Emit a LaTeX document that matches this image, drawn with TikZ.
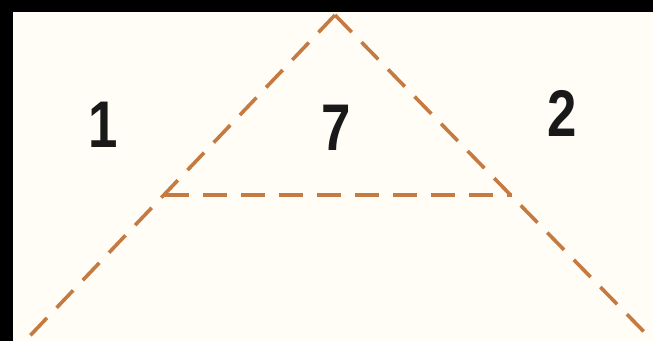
\documentclass[tikz,border=0pt]{standalone}
\usepackage{fontspec}
\usepackage{xcolor}
\usepackage{tikz}
\usetikzlibrary{positioning, calc}
\setmainfont{Liberation Sans}
\definecolor{paper}{RGB}{255,253,246}
\definecolor{cutline}{RGB}{196,122,64}

\begin{document}
\begin{tikzpicture}[
    x=1pt, y=-1pt,
    cutstyle/.style={draw=cutline, line width=3.6pt, dash pattern=on 24pt off 14pt},
    piece/.style={font=\fontsize{66}{66}\selectfont\bfseries, text=black!90, xscale=0.8, inner sep=0pt}
]
    % page and frame
    \fill[paper] (0,0) rectangle (653,341);
    \useasboundingbox (0,0) rectangle (653,341);
    \fill[black] (0,0) rectangle (653,12);
    \fill[black] (0,0) rectangle (13,341);

    % corners of the fold
    \coordinate (apex) at (335,15);
    \coordinate (baseL) at (25,341);
    \coordinate (baseR) at (653,341);
    \coordinate (midL) at (165,195);
    \coordinate (midR) at (512,195);

    \draw[cutstyle] (apex) -- (baseL);
    \draw[cutstyle] (apex) -- (baseR);
    \draw[cutstyle] (midL) -- (midR);

    % the pieces
    \node[piece] (one) at (103,125) {1};
    \node[piece] (seven) at (336,128) {7};
    \node[piece] (two) at (562,113) {2};
\end{tikzpicture}
\end{document}
